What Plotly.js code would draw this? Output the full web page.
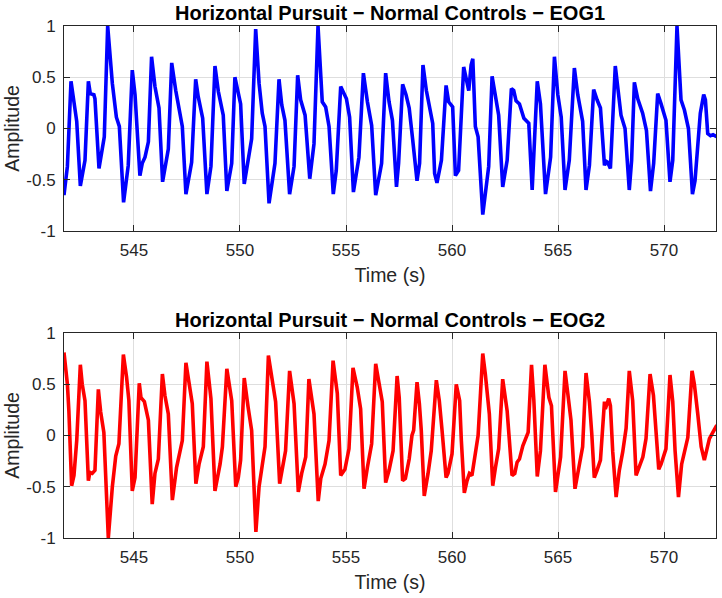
<!DOCTYPE html>
<html>
<head>
<meta charset="utf-8">
<script src="https://cdn.plot.ly/plotly-3.0.1.min.js"></script>
<style>
  html, body { margin: 0; padding: 0; background: #fff; }
  #chart { width: 722px; height: 598px; }
</style>
</head>
<body>
<div id="chart"></div>
<script>
// EOG channel 1 samples: time (s) and normalised amplitude
const eog1Time = [541.70,541.86,542.03,542.14,542.30,542.47,542.69,542.85,542.91,542.94,543.11,543.16,543.35,543.60,543.76,543.98,544.17,544.31,544.51,544.73,544.92,545.05,545.28,545.39,545.52,545.68,545.83,545.99,546.18,546.35,546.62,546.78,546.97,547.12,547.28,547.45,547.72,547.91,548.03,548.24,548.44,548.63,548.82,548.98,549.21,549.38,549.61,549.76,549.91,550.03,550.20,550.39,550.55,550.74,550.90,551.05,551.18,551.37,551.53,551.65,551.84,551.97,552.12,552.34,552.55,552.72,552.86,553.07,553.29,553.49,553.68,553.88,554.04,554.20,554.40,554.54,554.75,554.91,555.02,555.17,555.35,555.61,555.82,556.01,556.21,556.40,556.68,556.87,557.03,557.19,557.38,557.48,557.67,557.83,557.98,558.14,558.35,558.47,558.63,558.79,558.94,559.09,559.18,559.29,559.50,559.72,559.84,560.03,560.16,560.31,560.55,560.71,560.79,560.90,560.98,561.10,561.23,561.45,561.73,561.89,562.05,562.20,562.39,562.60,562.80,562.91,563.02,563.18,563.39,563.62,563.78,564.02,564.17,564.41,564.65,564.83,564.99,565.15,565.33,565.53,565.77,565.93,566.16,566.32,566.48,566.68,566.84,567.00,567.19,567.26,567.34,567.47,567.70,567.85,567.97,568.16,568.36,568.47,568.60,568.76,568.99,569.17,569.36,569.51,569.70,569.86,570.09,570.28,570.41,570.61,570.80,570.96,571.15,571.34,571.46,571.71,571.87,571.95,572.06,572.19,572.31,572.48];
const eog1Amp = [-0.65,-0.37,0.46,0.31,0.07,-0.56,-0.31,0.46,0.36,0.34,0.33,0.29,-0.39,-0.08,1.00,0.44,0.11,0.02,-0.72,-0.36,0.57,0.33,-0.46,-0.34,-0.28,-0.13,0.70,0.41,0.20,-0.52,-0.20,0.64,0.37,0.18,0.02,-0.64,-0.33,0.48,0.31,0.10,-0.64,-0.37,0.61,0.36,0.13,-0.61,-0.34,0.50,0.34,0.24,-0.54,-0.28,-0.10,0.97,0.44,0.15,0.02,-0.73,-0.47,-0.34,0.48,0.23,0.08,-0.64,-0.37,0.52,0.28,0.13,-0.49,-0.15,1.00,0.26,0.21,0.02,-0.64,-0.41,0.41,0.33,0.29,0.11,-0.62,-0.28,0.54,0.26,0.03,-0.65,-0.34,0.54,0.26,0.08,-0.57,-0.34,0.43,0.33,0.20,-0.10,-0.51,-0.34,0.62,0.37,0.20,0.05,-0.44,-0.53,-0.31,0.42,0.26,0.21,-0.46,-0.41,0.60,0.46,0.37,0.62,0.68,0.02,-0.08,-0.84,-0.37,0.51,0.31,0.13,-0.57,-0.31,0.39,0.37,0.27,0.24,0.10,0.05,-0.60,0.46,0.24,-0.64,-0.28,0.70,0.33,0.11,-0.60,-0.31,0.59,0.33,0.07,-0.60,-0.36,0.38,0.28,0.20,-0.36,-0.32,-0.33,-0.39,0.61,0.33,0.13,0.00,-0.60,-0.31,0.45,0.29,0.15,-0.02,-0.61,-0.34,0.34,0.24,0.08,-0.52,-0.31,1.00,0.28,0.18,0.00,-0.64,-0.51,0.15,0.33,0.28,-0.05,-0.07,-0.06,-0.08];

// EOG channel 2 samples: time (s) and normalised amplitude
const eog2Time = [541.70,541.86,541.93,542.06,542.17,542.30,542.47,542.56,542.69,542.85,542.92,543.03,543.16,543.32,543.43,543.58,543.79,543.98,544.14,544.29,544.50,544.65,544.76,544.92,545.05,545.25,545.33,545.49,545.68,545.86,545.99,546.15,546.34,546.46,546.62,546.81,547.01,547.22,547.28,547.45,547.56,547.75,547.92,548.07,548.27,548.44,548.63,548.82,549.06,549.17,549.38,549.61,549.80,549.92,550.03,550.20,550.38,550.55,550.75,550.90,551.05,551.18,551.34,551.53,551.68,551.87,552.00,552.15,552.34,552.55,552.75,552.91,553.10,553.25,553.49,553.69,553.81,554.01,554.20,554.39,554.59,554.75,554.95,555.14,555.33,555.53,555.69,555.85,556.01,556.21,556.40,556.56,556.71,556.87,557.03,557.22,557.41,557.51,557.67,557.80,557.98,558.11,558.19,558.35,558.46,558.55,558.69,558.87,559.02,559.26,559.40,559.53,559.72,559.81,560.00,560.20,560.36,560.44,560.58,560.71,560.82,560.94,561.10,561.23,561.45,561.57,561.76,561.92,562.05,562.20,562.39,562.60,562.83,562.96,563.07,563.18,563.34,563.50,563.59,563.75,563.86,564.02,564.17,564.38,564.57,564.69,564.88,565.12,565.33,565.46,565.61,565.80,566.01,566.16,566.32,566.48,566.59,566.71,566.84,567.00,567.19,567.23,567.31,567.39,567.47,567.58,567.74,567.89,568.05,568.21,568.36,568.52,568.68,568.84,569.00,569.15,569.34,569.50,569.62,569.75,569.86,570.09,570.28,570.41,570.52,570.68,570.83,570.99,571.12,571.32,571.43,571.59,571.75,571.90,572.03,572.14,572.30,572.49];
const eog2Amp = [0.81,0.50,0.24,-0.49,-0.39,-0.05,0.69,0.50,0.34,-0.44,-0.36,-0.37,-0.34,0.45,0.23,0.03,-1.00,-0.50,-0.20,-0.08,0.79,0.57,0.34,-0.54,-0.41,0.51,0.37,0.33,0.15,-0.67,-0.37,-0.23,0.60,0.39,0.21,-0.63,-0.31,-0.11,-0.05,0.71,0.54,0.31,-0.47,-0.28,-0.11,0.72,0.36,-0.54,-0.28,-0.11,0.65,0.34,-0.50,-0.41,-0.24,0.56,0.28,0.05,-0.94,-0.50,-0.29,-0.11,0.78,0.50,0.33,-0.47,-0.31,-0.15,0.63,0.31,-0.55,-0.37,-0.21,0.55,0.21,-0.64,-0.42,-0.28,-0.05,0.73,0.41,-0.39,-0.33,-0.13,0.66,0.47,0.26,-0.52,-0.31,-0.08,0.70,0.50,0.33,-0.46,-0.34,-0.15,0.58,0.37,-0.44,-0.42,-0.23,0.00,0.05,0.52,0.31,0.05,-0.59,-0.37,-0.15,0.54,0.34,0.05,-0.41,-0.37,-0.18,0.50,0.34,-0.05,-0.56,-0.44,-0.37,-0.39,-0.15,0.00,0.80,0.60,0.21,-0.49,-0.31,-0.13,0.55,0.24,-0.39,-0.37,-0.26,-0.23,-0.10,-0.02,0.03,0.69,0.34,-0.40,-0.15,0.69,0.37,0.29,-0.55,-0.21,0.63,0.41,0.15,-0.52,-0.28,-0.11,0.61,0.33,0.02,-0.41,-0.34,-0.24,0.33,0.26,0.31,0.36,0.29,-0.16,-0.60,-0.34,-0.16,0.07,0.63,0.34,-0.39,-0.31,-0.21,-0.03,0.60,0.39,0.02,-0.33,-0.28,-0.13,0.59,0.33,-0.15,-0.60,-0.28,-0.15,-0.02,0.63,0.50,0.21,-0.11,-0.24,-0.11,-0.03,0.03,0.10];

// Axis ticks and labels
const timeTicks = [545, 550, 555, 560, 565, 570];
const ampTicks = [-1, -0.5, 0, 0.5, 1];
const ampTickLabels = ['-1', '-0.5', '0', '0.5', '1'];
const timeRange = [541.70, 572.45];
const ampRange = [-1, 1];

const titles = [
  'Horizontal Pursuit \u2212 Normal Controls \u2212 EOG1',
  'Horizontal Pursuit \u2212 Normal Controls \u2212 EOG2'
];

const FONT = 'Liberation Sans, Arial, Helvetica, sans-serif';
const AXIS_COLOR = '#262626';
const GRID_COLOR = '#dedede';

function xAxis(anchor) {
  return {
    anchor: anchor,
    range: timeRange,
    tickvals: timeTicks,
    ticktext: timeTicks.map(String),
    ticks: 'inside',
    ticklen: 6,
    tickwidth: 1,
    tickcolor: AXIS_COLOR,
    showline: true,
    linecolor: AXIS_COLOR,
    linewidth: 1,
    mirror: 'ticks',
    showgrid: true,
    gridcolor: GRID_COLOR,
    gridwidth: 1,
    zeroline: false,
    tickfont: { family: FONT, size: 17, color: AXIS_COLOR },
    ticklabelstandoff: 4,
    title: { text: 'Time (s)', font: { family: FONT, size: 19.5, color: AXIS_COLOR }, standoff: 8 },
    automargin: false
  };
}

function yAxis(anchor, domain) {
  return {
    anchor: anchor,
    domain: domain,
    range: ampRange,
    tickvals: ampTicks,
    ticktext: ampTickLabels,
    ticks: 'inside',
    ticklen: 6,
    tickwidth: 1,
    tickcolor: AXIS_COLOR,
    showline: true,
    linecolor: AXIS_COLOR,
    linewidth: 1,
    mirror: 'ticks',
    showgrid: true,
    gridcolor: GRID_COLOR,
    gridwidth: 1,
    zeroline: false,
    tickfont: { family: FONT, size: 17, color: AXIS_COLOR },
    ticklabelstandoff: 4,
    title: { text: 'Amplitude', font: { family: FONT, size: 19.5, color: AXIS_COLOR }, standoff: 1 },
    automargin: false
  };
}

const traces = [
  {
    x: eog1Time, y: eog1Amp, xaxis: 'x', yaxis: 'y',
    type: 'scatter', mode: 'lines',
    line: { color: '#0000ff', width: 3.6 },
    hoverinfo: 'skip', showlegend: false
  },
  {
    x: eog2Time, y: eog2Amp, xaxis: 'x2', yaxis: 'y2',
    type: 'scatter', mode: 'lines',
    line: { color: '#ff0000', width: 3.6 },
    hoverinfo: 'skip', showlegend: false
  }
];

const domTop = [0.5996, 1];
const domBottom = [0, 0.4004];

const layout = {
  width: 722,
  height: 598,
  margin: { l: 64, r: 6, t: 26, b: 60 },
  paper_bgcolor: '#ffffff',
  plot_bgcolor: '#ffffff',
  showlegend: false,
  xaxis: xAxis('y'),
  yaxis: yAxis('x', domTop),
  xaxis2: xAxis('y2'),
  yaxis2: yAxis('x2', domBottom),
  annotations: [
    { text: '<b>' + titles[0] + '</b>', xref: 'paper', yref: 'paper', x: 0.5, y: domTop[1],
      xanchor: 'center', yanchor: 'bottom', yshift: 0, showarrow: false,
      font: { family: FONT, size: 20, color: '#000000' } },
    { text: '<b>' + titles[1] + '</b>', xref: 'paper', yref: 'paper', x: 0.5, y: domBottom[1],
      xanchor: 'center', yanchor: 'bottom', yshift: 0, showarrow: false,
      font: { family: FONT, size: 20, color: '#000000' } }
  ]
};

Plotly.newPlot('chart', traces, layout, { staticPlot: true, displayModeBar: false });
</script>
</body>
</html>
